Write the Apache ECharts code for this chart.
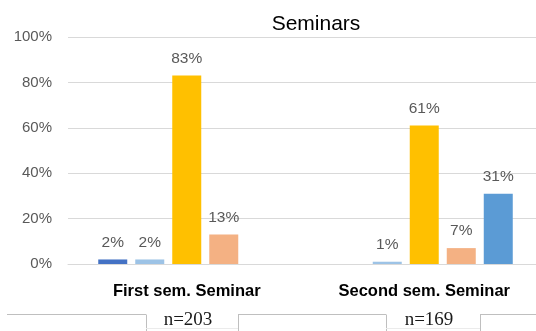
<!DOCTYPE html>
<html>
<head>
<meta charset="utf-8">
<script src="https://cdn.jsdelivr.net/npm/echarts@6/dist/echarts.min.js"></script>
<style>html,body{margin:0;padding:0;background:#fff;overflow:hidden;width:536px;height:331px;}#c{width:543px;height:331px;}</style>
</head>
<body>
<div id="c"></div>
<script>
const categories = ['First sem. Seminar', 'Second sem. Seminar'];
const seriesNames = ['Option 1', 'Option 2', 'Option 3', 'Option 4', 'Option 5'];
const series1 = [2, 0];
const series2 = [2, 1];
const series3 = [83, 61];
const series4 = [13, 7];
const series5 = [0, 31];
const sampleSizes = ['n=203', 'n=169'];
const yTicks = [0, 20, 40, 60, 80, 100];

const colors = ['#4472C4', '#9DC3E6', '#FFC000', '#F4B183', '#5B9BD5'];
const allData = [series1, series2, series3, series4, series5];

const chart = echarts.init(document.getElementById('c'));
const ln = (x1, y1, x2, y2, c) => ({ type: 'line', shape: { x1, y1, x2, y2 }, style: { stroke: c || '#BFBFBF', lineWidth: 1 }, silent: true });

chart.setOption({
  animation: false,
  title: {
    text: 'Seminars', left: 311, top: 9, textAlign: 'center',
    textStyle: { fontFamily: 'Liberation Sans', fontSize: 21, fontWeight: 'normal', color: '#000' }
  },
  grid: { left: 68, top: 37, right: 0, bottom: 67, containLabel: false },
  xAxis: {
    type: 'category', data: categories,
    axisLine: { show: true, lineStyle: { color: '#D9D9D9', width: 1 } },
    axisTick: { show: false },
    axisLabel: { margin: 19, fontFamily: 'Liberation Sans', fontSize: 16.5, fontWeight: 'bold', color: '#000' }
  },
  yAxis: {
    type: 'value', min: yTicks[0], max: yTicks[yTicks.length - 1], interval: 20,
    axisLine: { show: false }, axisTick: { show: false },
    splitLine: { lineStyle: { color: '#D9D9D9', width: 1 } },
    axisLabel: { margin: 16, formatter: v => v + '%', fontFamily: 'Liberation Sans', fontSize: 15, color: '#595959' }
  },
  series: allData.map((d, i) => ({
    name: seriesNames[i], type: 'bar', data: d,
    barWidth: 29, barGap: '27.6%',
    itemStyle: { color: colors[i] },
    label: {
      show: true, position: 'top', distance: 9,
      formatter: p => p.value ? p.value + '%' : '',
      fontFamily: 'Liberation Sans', fontSize: 15.5, color: '#595959'
    }
  })),
  graphic: [
    ln(7, 314.5, 146, 314.5),
    ln(146.5, 314.5, 146.5, 331),
    ln(146, 328.5, 238, 328.5, '#EBEBEB'),
    ln(238.5, 314.5, 238.5, 331),
    ln(238, 314.5, 386, 314.5),
    ln(386.5, 314.5, 386.5, 331),
    ln(386, 328.5, 480, 328.5, '#EBEBEB'),
    ln(480.5, 314.5, 480.5, 331),
    ln(480, 314.5, 536, 314.5),
    { type: 'text', x: 188, y: 320, style: { text: sampleSizes[0], fontFamily: 'Liberation Serif', fontSize: 19, fill: '#1a1a1a', align: 'center', verticalAlign: 'middle' } },
    { type: 'text', x: 429, y: 320, style: { text: sampleSizes[1], fontFamily: 'Liberation Serif', fontSize: 19, fill: '#1a1a1a', align: 'center', verticalAlign: 'middle' } }
  ]
});
</script>
</body>
</html>
